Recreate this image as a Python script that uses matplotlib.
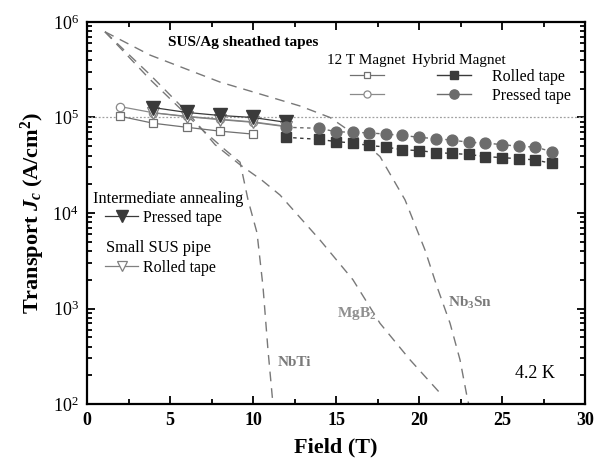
import matplotlib
matplotlib.use("Agg")
import matplotlib.pyplot as plt
from matplotlib.lines import Line2D
from matplotlib.ticker import MultipleLocator, LogLocator, NullFormatter

plt.rcParams['font.family'] = 'Liberation Serif'
plt.rcParams['mathtext.fontset'] = 'custom'
plt.rcParams['mathtext.rm'] = 'Liberation Serif'
plt.rcParams['mathtext.it'] = 'Liberation Serif:bold:italic'
plt.rcParams['mathtext.bf'] = 'Liberation Serif:bold'

# 12 T magnet data
b_12t_rolled = [2, 4, 6, 8, 10]
jc_12t_rolled = [1.03e5, 8.7e4, 7.9e4, 7.2e4, 6.7e4]
b_12t_pressed = [2, 4, 6, 8, 10, 12]
jc_12t_pressed = [1.30e5, 1.12e5, 1.03e5, 9.6e4, 9.0e4, 8.1e4]

# hybrid magnet data
b_hyb = [12, 14, 15, 16, 17, 18, 19, 20, 21, 22, 23, 24, 25, 26, 27, 28]
jc_hyb_rolled = [6.2e4, 5.9e4, 5.6e4, 5.4e4, 5.1e4, 4.9e4, 4.6e4, 4.5e4,
                 4.3e4, 4.2e4, 4.1e4, 3.9e4, 3.8e4, 3.7e4, 3.6e4, 3.3e4]
jc_hyb_pressed = [7.9e4, 7.7e4, 7.1e4, 7.0e4, 6.9e4, 6.7e4, 6.5e4, 6.2e4,
                  6.0e4, 5.8e4, 5.5e4, 5.4e4, 5.2e4, 5.0e4, 4.9e4, 4.4e4]

# intermediate annealing / small SUS pipe
b_ia = [4, 6, 8, 10, 12]
jc_ia_pressed = [1.27e5, 1.13e5, 1.05e5, 1.0e5, 8.9e4]
b_sus = [4, 6, 8, 10, 12]
jc_sus_rolled = [1.12e5, 1.02e5, 9.5e4, 8.9e4, 8.0e4]

# reference curves
b_nbti = [1.08, 3.8, 6.81, 8.31, 9.22, 9.70, 10.24, 10.60, 10.90, 11.20]
jc_nbti = [7.9e5, 2.5e5, 7.8e4, 4.6e4, 3.4e4, 1.37e4, 6.2e3, 1.7e3, 3.7e2, 1.0e2]
b_mgb2 = [1.08, 3.8, 6.2, 7.71, 9.22, 10.54, 11.63, 14.04, 16.02, 17.65, 19.46, 21.27]
jc_mgb2 = [7.9e5, 2.8e5, 1.06e5, 5.2e4, 3.2e4, 2.2e4, 1.54e4, 5.2e3, 2.0e3, 7.0e2, 2.9e2, 1.3e2]
b_nb3sn = [1.08, 3.8, 8.01, 11.02, 12.83, 14.64, 16.14, 17.65, 19.16, 20.36,
           21.08, 21.87, 22.47, 22.89, 22.99]
jc_nb3sn = [7.9e5, 4.5e5, 2.35e5, 1.64e5, 1.32e5, 1.0e5, 6.6e4, 3.9e4, 1.37e4,
            4.1e3, 1.7e3, 7.0e2, 2.9e2, 1.2e2, 1.0e2]

fig = plt.figure(figsize=(6.01, 4.63), dpi=100)
ax = fig.add_axes([0.1448, 0.1274, 0.8286, 0.8251])

ax.axhline(1e5, color='#a0a0a0', lw=0.9, ls=(0, (1.5, 1.5)))

curve_kw = dict(color='#787878', lw=1.0, dashes=(7, 5))
ax.plot(b_nbti, jc_nbti, **curve_kw)
ax.plot(b_mgb2, jc_mgb2, **curve_kw)
ax.plot(b_nb3sn, jc_nb3sn, **curve_kw)

s12r = dict(marker='s', color='#707070', lw=0.9, mfc='white', mec='#707070', ms=5.5, mew=0.9)
s12p = dict(marker='o', color='#8a8a8a', lw=0.9, mfc='white', mec='#8a8a8a', ms=6, mew=0.9)
ssus = dict(marker='v', color='#808080', lw=0.9, mfc='white', mec='#808080', ms=8, mew=0.9)
sia = dict(marker='v', color='#3a3a3a', lw=0.9, mfc='#3a3a3a', mec='#3a3a3a', ms=9.5)
shr = dict(marker='s', color='#3a3a3a', lw=1.0, ms=6.8)
shp = dict(marker='o', color='#6c6c6c', lw=1.0, ms=7.8)

ax.plot(b_12t_rolled, jc_12t_rolled, ls='-', **s12r)
ax.plot(b_12t_pressed, jc_12t_pressed, ls='-', **s12p)
ax.plot(b_sus, jc_sus_rolled, ls='-', **ssus)
ax.plot(b_ia, jc_ia_pressed, ls='-', **sia)
ax.plot(b_hyb, jc_hyb_rolled, ls=(0, (2.5, 2.5)), **shr)
ax.plot(b_hyb, jc_hyb_pressed, ls=(0, (2.5, 2.5)), **shp)

ax.set_yscale('log')
ax.set_xlim(0, 30)
ax.set_ylim(1e2, 1e6)
ax.xaxis.set_major_locator(MultipleLocator(5))
ax.xaxis.set_minor_locator(MultipleLocator(2.5))
ax.yaxis.set_major_locator(LogLocator(base=10, numticks=10))
ax.yaxis.set_minor_locator(LogLocator(base=10, subs=range(2, 10), numticks=10))
ax.yaxis.set_minor_formatter(NullFormatter())
ax.tick_params(which='both', direction='in', top=True, right=True, width=1.3)
ax.tick_params(which='major', length=6)
ax.tick_params(which='minor', length=3.5)
ax.tick_params(axis='y', labelsize=13, pad=6)
ax.tick_params(axis='x', labelsize=13, pad=6)
for lab in ax.get_xticklabels():
    lab.set_fontweight('bold')
for sp in ax.spines.values():
    sp.set_linewidth(1.6)

ax.set_xlabel('Field (T)', fontsize=16, fontweight='bold', labelpad=6)
ax.set_ylabel(r'Transport $J_c$ (A/cm$^\mathbf{2}$)', fontsize=16,
              fontweight='bold', labelpad=4)

# legends (solid-line proxies, like the original key)
h_12r = Line2D([], [], ls='-', **s12r)
h_12p = Line2D([], [], ls='-', **s12p)
h_sus = Line2D([], [], ls='-', **ssus)
h_ia = Line2D([], [], ls='-', **sia)
h_hr = Line2D([], [], ls='-', **shr)
h_hp = Line2D([], [], ls='-', **shp)

ax.text(0.162, 0.947, 'SUS/Ag sheathed tapes', transform=ax.transAxes,
        fontsize=11, fontweight='bold', va='center')
ax.text(0.482, 0.899, '12 T Magnet', transform=ax.transAxes, fontsize=11, va='center')
ax.text(0.652, 0.899, 'Hybrid Magnet', transform=ax.transAxes, fontsize=11, va='center')
leg_kw = dict(loc='upper left', frameon=False, handlelength=2.1, fontsize=11.5,
              labelspacing=0.18, borderpad=0, borderaxespad=0, markerscale=0.85)
leg1 = ax.legend([h_12r, h_12p], ['', ''], bbox_to_anchor=(0.528, 0.877),
                 handletextpad=0, **leg_kw)
ax.add_artist(leg1)
leg2 = ax.legend([h_hr, h_hp], ['Rolled tape', 'Pressed tape'],
                 bbox_to_anchor=(0.703, 0.877), handletextpad=1.35, **leg_kw)
ax.add_artist(leg2)

ax.text(0.012, 0.537, 'Intermediate annealing', transform=ax.transAxes,
        fontsize=11.8, va='center')
leg3 = ax.legend([h_ia], ['Pressed tape'], bbox_to_anchor=(0.036, 0.508),
                 handletextpad=0.3, **leg_kw)
ax.add_artist(leg3)
ax.text(0.038, 0.408, 'Small SUS pipe', transform=ax.transAxes,
        fontsize=11.8, va='center')
leg4 = ax.legend([h_sus], ['Rolled tape'], bbox_to_anchor=(0.036, 0.377),
                 handletextpad=0.3, **leg_kw)

# curve labels
ax.text(11.5, 2.75e2, 'NbTi', fontsize=11, fontweight='bold', color='#7a7a7a', va='center')
ax.text(15.05, 8.9e2, r'MgB$_\mathbf{2}$', fontsize=11, fontweight='bold',
        color='#8f8f8f', va='center')
ax.text(21.75, 1.15e3, r'Nb$_\mathbf{3}$Sn', fontsize=11, fontweight='bold',
        color='#7a7a7a', va='center')
ax.text(25.8, 2.1e2, '4.2 K', fontsize=13, va='center')

fig.savefig('out.png', dpi=100)
